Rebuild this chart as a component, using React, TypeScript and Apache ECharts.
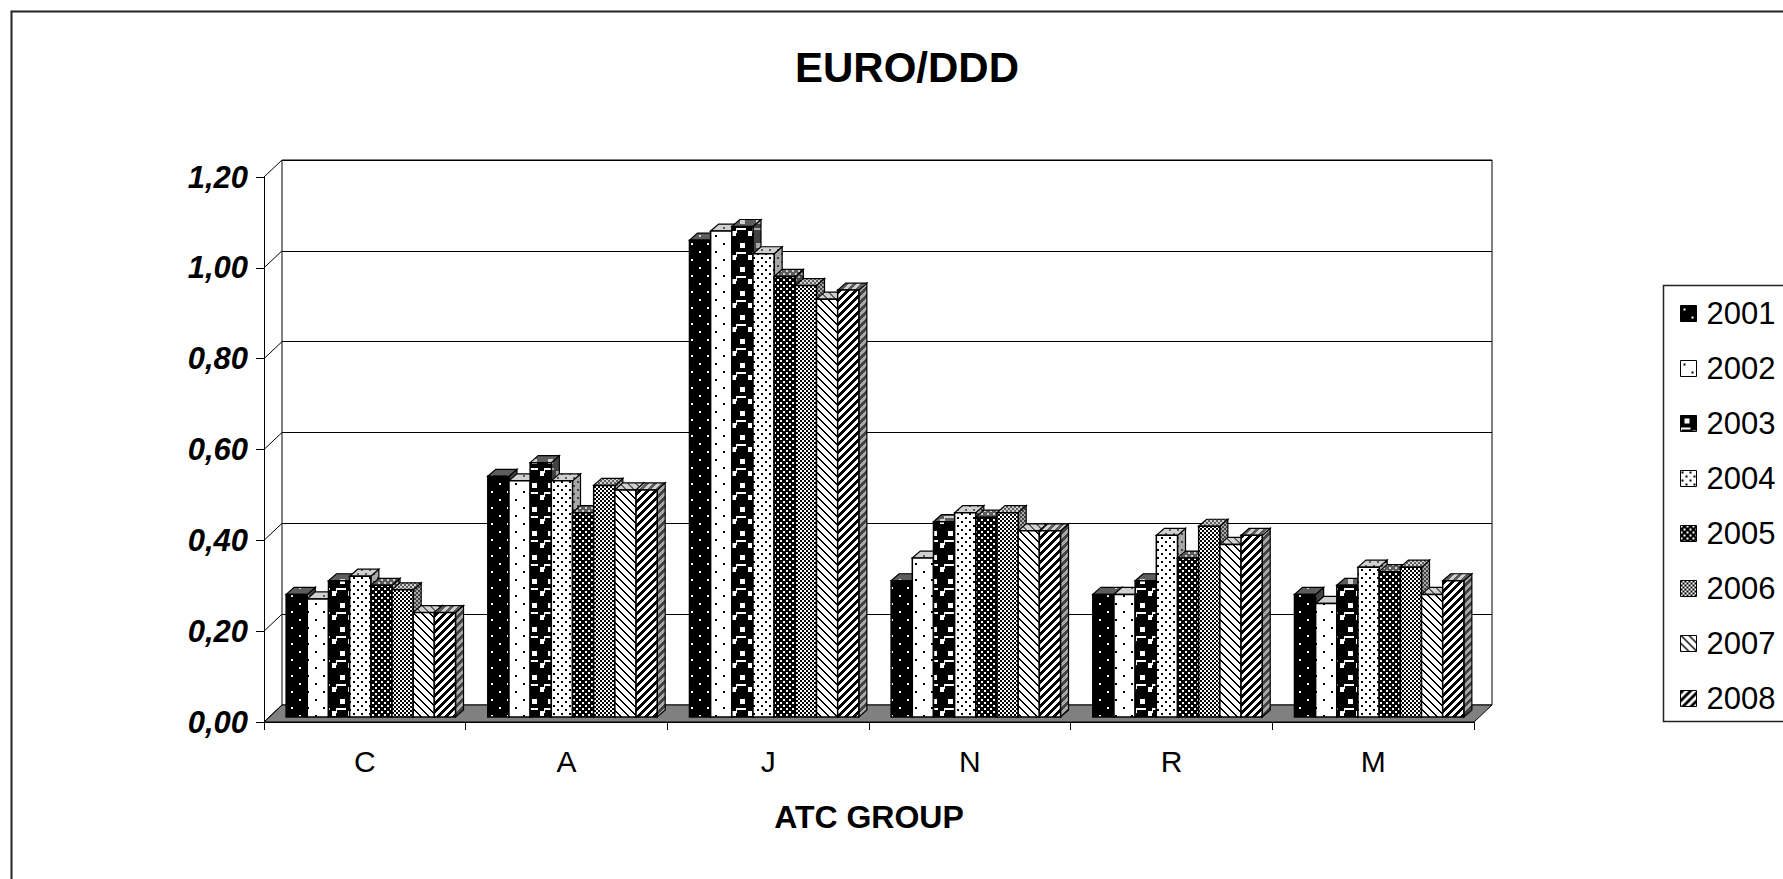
import React, { useEffect, useRef } from "react";
import * as echarts from "echarts";

const categories = ["C", "A", "J", "N", "R", "M"];
const years = ["2001", "2002", "2003", "2004", "2005", "2006", "2007", "2008"];
const y2001 = [0.27, 0.53, 1.05, 0.30, 0.27, 0.27];
const y2002 = [0.26, 0.52, 1.07, 0.35, 0.27, 0.25];
const y2003 = [0.30, 0.56, 1.08, 0.43, 0.30, 0.29];
const y2004 = [0.31, 0.52, 1.02, 0.45, 0.40, 0.33];
const y2005 = [0.29, 0.45, 0.97, 0.44, 0.35, 0.32];
const y2006 = [0.28, 0.51, 0.95, 0.45, 0.42, 0.33];
const y2007 = [0.23, 0.50, 0.92, 0.41, 0.38, 0.27];
const y2008 = [0.23, 0.50, 0.94, 0.41, 0.40, 0.30];
const seriesValues = [y2001, y2002, y2003, y2004, y2005, y2006, y2007, y2008];
const yTicks = [0, 0.2, 0.4, 0.6, 0.8, 1.0, 1.2];

const FONT = "'Liberation Sans', Arial, sans-serif";

// 3D geometry (pixels)
const WALL_DX = 18;
const WALL_DY = -17;
const FACE_DX = 6;
const FACE_DY = -5;
const CAP_DX = 8;
const CAP_DY = -7;
const CLUSTER_FRAC = 0.84;

type Setter = (x: number, y: number, w: number, h: number) => void;

function makeTile(w: number, h: number, bg: string, fg: string, draw: (set: Setter) => void) {
  const c = document.createElement("canvas");
  c.width = w;
  c.height = h;
  const ctx = c.getContext("2d")!;
  ctx.fillStyle = bg;
  ctx.fillRect(0, 0, w, h);
  ctx.fillStyle = fg;
  draw((x, y, ww, hh) => ctx.fillRect(x, y, ww, hh));
  return { image: c.toDataURL(), repeat: "repeat", imageWidth: w, imageHeight: h };
}

function makePatterns() {
  const B = "#000";
  const W = "#fff";
  return [
    makeTile(16, 16, B, W, (s) => { s(3, 3, 2, 2); s(11, 11, 2, 2); }),
    makeTile(16, 16, W, B, (s) => { s(3, 3, 2, 2); s(11, 11, 2, 2); }),
    makeTile(16, 24, B, W, (s) => { s(4, 3, 5, 5); s(0, 12, 10, 2); s(0, 12, 1, 5); s(12, 15, 4, 5); }),
    makeTile(8, 8, W, B, (s) => { s(1, 1, 2, 2); s(5, 5, 2, 2); }),
    makeTile(6, 6, B, W, (s) => { s(0, 0, 2, 2); s(3, 3, 2, 2); }),
    makeTile(4, 4, W, B, (s) => { s(0, 0, 2, 2); s(2, 2, 2, 2); }),
    makeTile(8, 8, W, B, (s) => { for (let i = 0; i < 8; i++) { s(i, i, 1, 1); s((i + 1) % 8, i, 1, 1); } }),
    makeTile(8, 8, W, B, (s) => { for (let y = 0; y < 8; y++) for (let x = 0; x < 8; x++) if ((x + y) % 8 < 4) s(x, y, 1, 1); }),
  ];
}

export default function App() {
  const ref = useRef<HTMLDivElement>(null);
  useEffect(() => {
    if (!ref.current) return;
    const chart = echarts.init(ref.current, undefined, { renderer: "svg" });
    const patterns = makePatterns();
    const nS = years.length;

    const barSeries = seriesValues.map((vals, s) => ({
      type: "custom",
      name: years[s],
      xAxisIndex: 0,
      yAxisIndex: 0,
      z: 3,
      clip: false,
      data: vals.map((v, i) => [i, v]),
      renderItem: (params: any, api: any) => {
        const cat = api.value(0);
        const v = api.value(1);
        const top = api.coord([cat, v]);
        const base = api.coord([cat, 0]);
        const band = api.size([1, 0])[0];
        const barW = (band * CLUSTER_FRAC) / nS;
        const x0 = top[0] - (barW * nS) / 2 + s * barW + FACE_DX;
        const x1 = x0 + barW;
        const yT = top[1] + FACE_DY;
        const yB = base[1] + FACE_DY;
        const pat = patterns[s];
        const sidePts = [[x1, yT], [x1 + CAP_DX, yT + CAP_DY], [x1 + CAP_DX, yB + CAP_DY], [x1, yB]];
        const topPts = [[x0, yT], [x0 + CAP_DX, yT + CAP_DY], [x1 + CAP_DX, yT + CAP_DY], [x1, yT]];
        return {
          type: "group",
          children: [
            { type: "polygon", shape: { points: sidePts }, style: { fill: pat, stroke: "none" } },
            { type: "polygon", shape: { points: sidePts }, style: { fill: "rgba(110,110,110,0.6)", stroke: "#000", lineWidth: 1.2 } },
            { type: "polygon", shape: { points: topPts }, style: { fill: pat, stroke: "none" } },
            { type: "polygon", shape: { points: topPts }, style: { fill: "rgba(170,170,170,0.55)", stroke: "#000", lineWidth: 1.2 } },
            { type: "rect", shape: { x: x0, y: yT, width: barW, height: yB - yT }, style: { fill: pat, stroke: "#000", lineWidth: 1.5 } },
          ],
        };
      },
    }));

    const floorSeries = {
      type: "custom",
      name: "floor",
      xAxisIndex: 0,
      yAxisIndex: 0,
      z: 1,
      clip: false,
      silent: true,
      data: [[0, 0]],
      renderItem: (params: any, api: any) => {
        const band = api.size([1, 0])[0];
        const l = api.coord([0, 0]);
        const r = api.coord([categories.length - 1, 0]);
        const xl = l[0] - band / 2;
        const xr = r[0] + band / 2;
        const y0 = l[1];
        return {
          type: "polygon",
          shape: { points: [[xl, y0], [xr, y0], [xr + WALL_DX, y0 + WALL_DY], [xl + WALL_DX, y0 + WALL_DY]] },
          style: { fill: "#808080", stroke: "#000", lineWidth: 1 },
        };
      },
    };

    const diagSeries = {
      type: "custom",
      name: "diag",
      xAxisIndex: 0,
      yAxisIndex: 0,
      z: 1,
      clip: false,
      silent: true,
      data: yTicks.map((v) => [0, v]),
      renderItem: (params: any, api: any) => {
        const band = api.size([1, 0])[0];
        const p = api.coord([0, api.value(1)]);
        const xl = p[0] - band / 2;
        return {
          type: "line",
          shape: { x1: xl, y1: p[1], x2: xl + WALL_DX, y2: p[1] + WALL_DY },
          style: { stroke: "#000", lineWidth: 1 },
        };
      },
    };

    chart.setOption({
      animation: false,
      backgroundColor: "#fff",
      title: {
        text: "EURO/DDD",
        left: 902,
        top: 41,
        textAlign: "center",
        textStyle: { fontFamily: FONT, fontSize: 42, fontWeight: "bold", color: "#000" },
      },
      legend: {
        orient: "vertical",
        left: 1675,
        top: 293,
        itemWidth: 16,
        itemHeight: 16,
        itemGap: 24,
        selectedMode: false,
        textStyle: { fontFamily: FONT, fontSize: 31, color: "#000", lineHeight: 31, padding: [0, 0, 0, 5] },
        data: years.map((y, i) => ({
          name: y,
          icon: "rect",
          itemStyle: { color: patterns[i], borderColor: "#000", borderWidth: 1 },
        })),
      },
      grid: [
        { left: 264, top: 177, width: 1210, height: 545, show: false },
        { left: 282, top: 160, width: 1210, height: 545, show: true, borderColor: "#000", borderWidth: 1, backgroundColor: "#fff" },
      ],
      xAxis: [
        {
          gridIndex: 0,
          type: "category",
          data: categories,
          axisLine: { show: true, lineStyle: { color: "#000", width: 1 } },
          axisTick: { show: true, length: 8, lineStyle: { color: "#000" } },
          axisLabel: { fontFamily: FONT, fontSize: 30, color: "#000", margin: 24 },
          name: "ATC GROUP",
          nameLocation: "middle",
          nameGap: 79,
          nameTextStyle: { fontFamily: FONT, fontSize: 32, fontWeight: "bold", color: "#000" },
          splitLine: { show: false },
        },
        {
          gridIndex: 1,
          type: "category",
          data: categories,
          show: false,
        },
      ],
      yAxis: [
        {
          gridIndex: 0,
          type: "value",
          min: 0,
          max: 1.2,
          interval: 0.2,
          axisLine: { show: true, lineStyle: { color: "#000", width: 1 } },
          axisTick: { show: true, length: 8, lineStyle: { color: "#000" } },
          axisLabel: {
            fontFamily: FONT,
            fontSize: 31,
            fontWeight: "bold",
            fontStyle: "italic",
            color: "#000",
            margin: 16,
            formatter: (v: number) => v.toFixed(2).replace(".", ","),
          },
          splitLine: { show: false },
        },
        {
          gridIndex: 1,
          type: "value",
          min: 0,
          max: 1.2,
          interval: 0.2,
          axisLine: { show: false },
          axisTick: { show: false },
          axisLabel: { show: false },
          splitLine: { show: true, lineStyle: { color: "#000", width: 1 } },
        },
      ],
      graphic: [
        { type: "rect", left: 9, top: 9, z: -10, shape: { x: 0, y: 0, width: 1800, height: 900 }, style: { fill: "none", stroke: "#222", lineWidth: 2 } },
        { type: "rect", left: 1661, top: 283, z: -5, shape: { x: 0, y: 0, width: 200, height: 436 }, style: { fill: "none", stroke: "#222", lineWidth: 1.5 } },
      ],
      series: [floorSeries, diagSeries, ...barSeries],
    } as any);
    return () => chart.dispose();
  }, []);
  return <div ref={ref} style={{ position: "fixed", left: 0, top: 0, width: 1783, height: 879 }} />;
}
